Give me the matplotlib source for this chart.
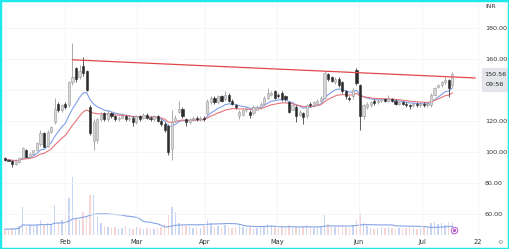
import numpy as np
import pandas as pd
import matplotlib
matplotlib.use('Agg')
import matplotlib.pyplot as plt
from matplotlib.patches import Rectangle

# daily candles (index = trading day)
opens = [96, 95, 94.5, 92, 93.5, 96, 101, 97, 99, 101,
         105, 112, 104, 113, 119, 131, 127, 131, 130, 145,
         154, 148, 155.5, 152, 129, 107, 108, 121, 125, 121,
         125, 123, 121, 122, 123, 121, 122, 119, 123, 122,
         124, 122, 121, 123, 120, 118, 117, 102, 120, 126,
         128, 121, 119, 121, 122, 121, 122, 125, 132, 135,
         132, 136, 134, 137, 133, 130, 123, 124, 127, 126,
         125, 127, 129, 131, 135, 137, 139, 137, 138, 136,
         132, 127, 129, 124, 125, 123, 131, 130, 131, 133,
         135, 150, 148, 145, 147, 145, 139, 135, 136, 153,
         143, 123, 129, 130, 133, 132, 133, 134, 133, 134,
         133, 131, 132, 131, 130, 130, 131, 130, 131, 130,
         130, 137, 142, 143, 145, 146.5, 143]
closes = [95, 94.5, 92, 93.5, 96, 102.5, 97, 99, 101, 105.5,
          112, 103.5, 113, 116, 128, 127, 130, 129, 145, 148,
          147, 152, 151, 140, 112, 119, 121, 124, 121, 125,
          123, 121, 122, 123, 121, 122, 119, 123, 121, 124,
          122, 121, 123, 120, 118, 114, 100, 119, 122, 128,
          123, 119, 121, 122, 121, 122, 121, 133, 135, 132,
          136, 133, 137, 133, 131, 129, 126, 127, 128, 124,
          129, 129, 131, 135, 138, 138, 135, 136, 134, 134,
          126, 130, 123, 126, 122.5, 130.5, 130, 132, 133, 135,
          151, 147, 146, 147, 143, 139, 136, 134, 140, 144.5,
          123, 130, 131, 132, 131.5, 133, 134, 133, 134, 133,
          131, 132, 131, 130, 129.5, 131, 130, 131, 130, 131,
          137, 141, 143, 145, 146.5, 141, 150.56]
highs = [96.5, 95.5, 95, 94, 96.5, 103.5, 102, 100, 101.5, 106.5,
         114, 113, 114, 117, 135, 132, 131, 132, 146, 170,
         155, 156, 161, 153, 130, 121, 122, 126, 126, 127,
         126, 124, 123, 125, 124, 123, 123, 124, 124, 125,
         125, 123, 124, 124, 121, 119, 118, 127, 124, 133,
         129, 122, 122, 123, 123, 123, 123, 134, 136, 136,
         137, 137, 139, 138, 134, 131, 127, 128, 129, 127,
         130, 130, 132, 136, 141, 139, 140, 138, 139, 137,
         133, 131, 130, 127, 126, 131, 132, 133, 134, 136,
         152, 151, 149, 148, 148, 146, 140, 136, 141, 154,
         144, 131, 132, 133, 134, 134, 135, 135, 137, 135,
         134, 133, 133, 132, 131, 132, 132, 132, 132, 132,
         138, 142, 144, 146, 148, 147, 151.5]
lows = [94.5, 94, 90.5, 91.5, 93, 95.5, 96.5, 96, 98, 100.5,
        104, 103, 103, 112, 118, 126, 126, 128, 129, 143,
        145, 147, 149, 139, 111, 101, 106, 120, 120, 120,
        122, 120, 120, 121, 120, 120, 117, 118, 120, 121,
        121, 120, 120, 119, 117, 113, 98, 95, 119, 125,
        122, 117, 118, 120, 120, 120, 120, 124, 131, 131,
        131, 132, 133, 132, 130, 128, 121, 123, 126, 122,
        124, 127, 128, 130, 134, 136, 134, 135, 133, 133,
        125, 127, 119, 123, 118, 122, 129, 129, 130, 132,
        134, 146, 145, 144, 142, 138, 134, 133, 134, 143,
        114, 121, 128, 129, 130, 131, 132, 132, 132, 132,
        130, 130, 130, 129, 128, 129, 129, 129, 129, 129,
        129, 136, 141, 142, 144, 135.5, 142]
# volume, thousands of shares
volumes = [60, 55, 70, 60, 90, 280, 80, 100, 90, 110,
           150, 100, 120, 110, 300, 130, 150, 200, 370, 580,
           160, 150, 230, 190, 400, 400, 180, 120, 90, 80,
           70, 80, 60, 70, 90, 70, 60, 80, 70, 60,
           70, 60, 60, 70, 80, 110, 200, 280, 230, 120,
           100, 90, 80, 70, 80, 70, 90, 150, 120, 80,
           90, 70, 100, 80, 70, 80, 100, 80, 70, 80,
           60, 70, 80, 90, 110, 100, 80, 70, 80, 70,
           100, 70, 90, 70, 80, 100, 80, 70, 80, 90,
           200, 110, 90, 80, 90, 100, 80, 70, 100, 150,
           220, 120, 90, 70, 60, 70, 80, 70, 80, 70,
           60, 70, 60, 70, 80, 70, 60, 70, 80, 70,
           120, 130, 110, 120, 100, 130, 120]

month_pos = [17, 37.2, 56.3, 76.6, 99.7, 117.5, 133.2]
month_labels = ['Feb', 'Mar', 'Apr', 'May', 'Jun', 'Jul', '22']
price_ticks = [60, 80, 100, 120, 140, 160, 180]

trend_x = [19, 132.4]
trend_y = [159.4, 147.7]

df = pd.DataFrame({'o': opens, 'h': highs, 'l': lows, 'c': closes, 'v': volumes})
x = np.arange(len(df))
ema_fast = df['c'].ewm(span=10, adjust=False).mean()
ema_slow = df['c'].ewm(span=20, adjust=False).mean()
vol_ma = df['v'].rolling(20, min_periods=1).mean()

fig = plt.figure(figsize=(5.09, 2.49), dpi=100)
ax = fig.add_axes([3 / 509, 14 / 249, 477 / 509, 232 / 249])
axv = ax.twinx()
ax.set_zorder(axv.get_zorder() + 1)
ax.patch.set_visible(False)

# volume
up = df['c'] >= df['o']
axv.bar(x, df['v'], width=0.4, color=np.where(up, '#c8d6f3', '#f5d5d5'), zorder=1)
axv.plot(x, vol_ma, color='#86a5e6', lw=0.8, zorder=2)
axv.set_ylim(0, 2320)
axv.axis('off')

# candles
up_col, down_col = '#d6d6d6', '#2b2b2b'
ax.vlines(x[up], df['l'][up], df['h'][up], color='#9c9c9c', lw=0.6, zorder=3)
ax.vlines(x[~up], df['l'][~up], df['h'][~up], color='#444444', lw=0.6, zorder=3)
body = (df['c'] - df['o']).abs().clip(lower=0.4)
bottom = df[['o', 'c']].min(axis=1)
ax.bar(x[up], body[up], bottom=bottom[up], width=0.6, color=up_col,
       edgecolor='#9c9c9c', linewidth=0.4, zorder=4)
ax.bar(x[~up], body[~up], bottom=bottom[~up], width=0.6, color=down_col,
       edgecolor=down_col, linewidth=0.4, zorder=4)

ax.plot(x, ema_fast, color='#7f9fe8', lw=0.8, zorder=2)
ax.plot(x, ema_slow, color='#e8747a', lw=0.8, zorder=2)
ax.plot(trend_x, trend_y, color='#e0474c', lw=0.9, zorder=5)

ax.set_xlim(-0.56, 133.8)
ax.set_ylim(46.5, 196)
ax.set_xticks(month_pos)
ax.set_xticklabels(month_labels, fontsize=4.8, color='#333333')
ax.set_yticks(price_ticks)
ax.set_yticklabels([f'{p:.2f}' for p in price_ticks], fontsize=4.6, color='#333333')
ax.yaxis.tick_right()
ax.tick_params(axis='x', length=0, pad=3)
ax.tick_params(axis='y', length=0, pad=3.5)
ax.grid(color='#f3f3f3', lw=0.5, zorder=0)
for s in ax.spines.values():
    s.set_visible(False)

# event marker
ax.scatter([126.5], [49.5], s=22, facecolor='white', edgecolor='#b35cc9', lw=0.7, zorder=6)
ax.scatter([126.5], [49.5], s=2, color='#b35cc9', zorder=7)

# last price label
fig.patches.append(Rectangle((482 / 509, 1 - 91 / 249), 25 / 509, 23 / 249,
                             transform=fig.transFigure, color='#e3e5ea', zorder=5))
fig.text(484 / 509, 1 - 74 / 249, '150.56', fontsize=4.6, color='#222222', va='center', zorder=8)
fig.text(486 / 509, 1 - 84 / 249, '09:56', fontsize=4.6, color='#222222', va='center', zorder=8)
fig.text(485 / 509, 1 - 6 / 249, 'INR', fontsize=4.4, color='#333333', va='center')
fig.text(500 / 509, 1 - 242 / 249, '⚙', fontsize=4.5, color='#888888', va='center', ha='center')

# frame
fig.patches.append(Rectangle((0, 0), 1, 1, transform=fig.transFigure, fill=False,
                             edgecolor='#1ee8ea', lw=2.5, zorder=10))

fig.savefig('out.png', dpi=100)
